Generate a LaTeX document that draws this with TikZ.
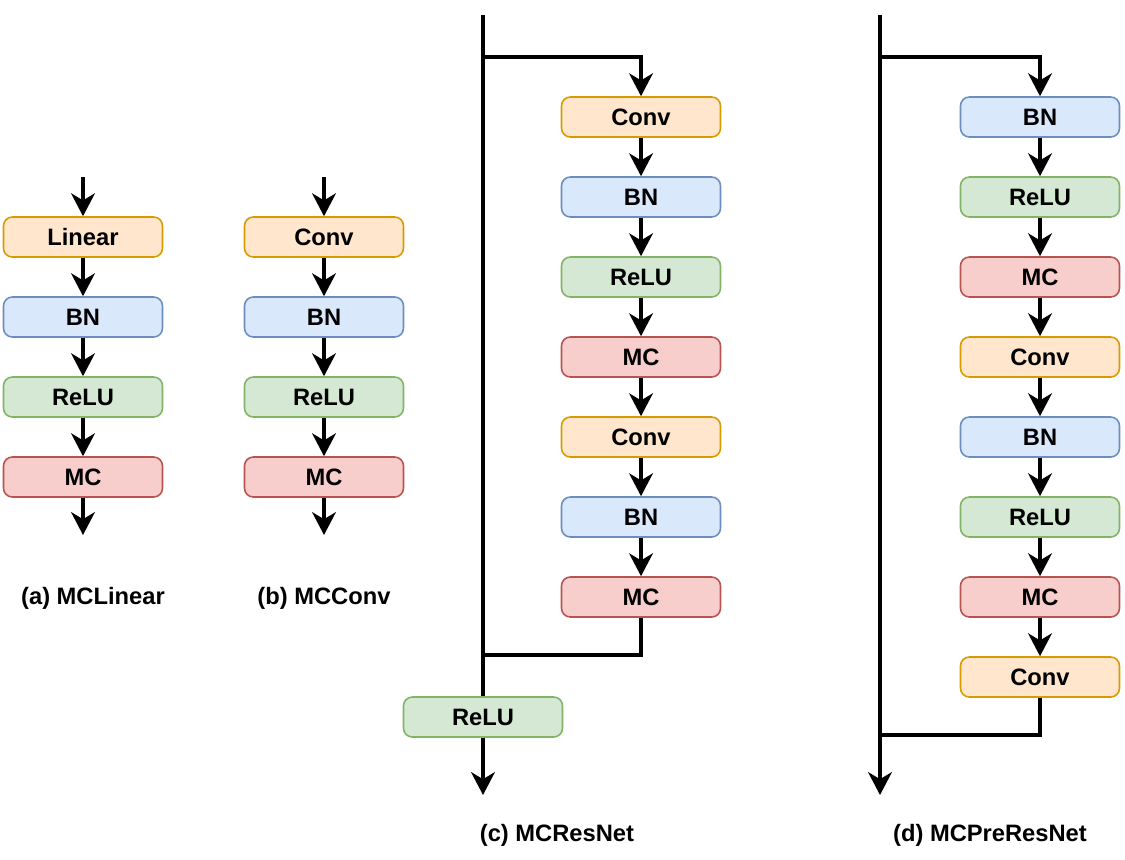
\documentclass[tikz,border=0pt]{standalone}
\usepackage{fontspec}
\setmainfont{Liberation Sans}
\usetikzlibrary{arrows.meta}

\definecolor{convfill}{HTML}{FFE6CC}\definecolor{convline}{HTML}{D79B00}
\definecolor{bnfill}{HTML}{DAE8FC}\definecolor{bnline}{HTML}{6C8EBF}
\definecolor{relufill}{HTML}{D5E8D4}\definecolor{reluline}{HTML}{82B366}
\definecolor{mcfill}{HTML}{F8CECC}\definecolor{mcline}{HTML}{B85450}

\tikzset{
  layer/.style={rounded corners=5pt,line width=0.9pt,minimum width=3.18cm,
    minimum height=0.8cm,font=\fontsize{13.5}{15}\selectfont\bfseries,inner sep=0pt},
  convbox/.style={layer,fill=convfill,draw=convline},
  bnbox/.style={layer,fill=bnfill,draw=bnline},
  relubox/.style={layer,fill=relufill,draw=reluline},
  mcbox/.style={layer,fill=mcfill,draw=mcline},
  caption/.style={font=\fontsize{13.5}{15}\selectfont\bfseries},
  flow/.style={line width=2pt,-{Stealth[length=13pt,width=13.5pt,inset=4pt]}},
  wire/.style={line width=2pt}
}

\begin{document}
\begin{tikzpicture}[x=0.02cm,y=-0.02cm]
  \useasboundingbox (0,0) rectangle (1125,859);

  % (a) MCLinear
  \coordinate (ain) at (83,177);
  \node[convbox] (alin) at (83,237) {Linear};
  \node[bnbox]   (abn)  at (83,317) {BN};
  \node[relubox] (arelu) at (83,397) {ReLU};
  \node[mcbox]   (amc)  at (83,477) {MC};
  \coordinate (aout) at (83,535);
  \node[caption] (acap) at (93,598) {(a) MCLinear};

  \draw[flow] (ain) -- (alin);
  \draw[flow] (alin) -- (abn);
  \draw[flow] (abn) -- (arelu);
  \draw[flow] (arelu) -- (amc);
  \draw[flow] (amc) -- (aout);

  % (b) MCConv
  \coordinate (bin) at (324,177);
  \node[convbox] (bconv) at (324,237) {Conv};
  \node[bnbox]   (bbn)   at (324,317) {BN};
  \node[relubox] (brelu) at (324,397) {ReLU};
  \node[mcbox]   (bmc)   at (324,477) {MC};
  \coordinate (bout) at (324,535);
  \node[caption] (bcap) at (324,598) {(b) MCConv};

  \draw[flow] (bin) -- (bconv);
  \draw[flow] (bconv) -- (bbn);
  \draw[flow] (bbn) -- (brelu);
  \draw[flow] (brelu) -- (bmc);
  \draw[flow] (bmc) -- (bout);

  % (c) MCResNet
  \coordinate (ctop) at (483,15);
  \coordinate (csplit) at (483,57);
  \coordinate (cjoin) at (483,655);
  \coordinate (cout) at (483,795);
  \node[convbox] (cconva) at (641,117) {Conv};
  \node[bnbox]   (cbna)   at (641,197) {BN};
  \node[relubox] (crelua) at (641,277) {ReLU};
  \node[mcbox]   (cmca)   at (641,357) {MC};
  \node[convbox] (cconvb) at (641,437) {Conv};
  \node[bnbox]   (cbnb)   at (641,517) {BN};
  \node[mcbox]   (cmcb)   at (641,597) {MC};
  \draw[wire] (ctop) -- (cjoin) -- (483,700);
  \node[relubox] (crelu) at (483,717) {ReLU};
  \node[caption] (ccap) at (557,835) {(c) MCResNet};

  \draw[flow] (csplit) -| (cconva);
  \draw[flow] (cconva) -- (cbna);
  \draw[flow] (cbna) -- (crelua);
  \draw[flow] (crelua) -- (cmca);
  \draw[flow] (cmca) -- (cconvb);
  \draw[flow] (cconvb) -- (cbnb);
  \draw[flow] (cbnb) -- (cmcb);
  \draw[wire] (cmcb) |- (cjoin);
  \draw[flow] (crelu) -- (cout);

  % (d) MCPreResNet
  \coordinate (dtop) at (880,15);
  \coordinate (dsplit) at (880,57);
  \coordinate (djoin) at (880,735);
  \coordinate (dout) at (880,795);
  \node[bnbox]   (dbna)   at (1040,117) {BN};
  \node[relubox] (drelua) at (1040,197) {ReLU};
  \node[mcbox]   (dmca)   at (1040,277) {MC};
  \node[convbox] (dconva) at (1040,357) {Conv};
  \node[bnbox]   (dbnb)   at (1040,437) {BN};
  \node[relubox] (dnrelub) at (1040,517) {ReLU};
  \node[mcbox]   (dmcb)   at (1040,597) {MC};
  \node[convbox] (dconvb) at (1040,677) {Conv};
  \node[caption] (dcap) at (990,835) {(d) MCPreResNet};

  \draw[flow] (dtop) -- (dout);
  \draw[flow] (dsplit) -| (dbna);
  \draw[flow] (dbna) -- (drelua);
  \draw[flow] (drelua) -- (dmca);
  \draw[flow] (dmca) -- (dconva);
  \draw[flow] (dconva) -- (dbnb);
  \draw[flow] (dbnb) -- (dnrelub);
  \draw[flow] (dnrelub) -- (dmcb);
  \draw[flow] (dmcb) -- (dconvb);
  \draw[wire] (dconvb) |- (djoin);
\end{tikzpicture}
\end{document}
